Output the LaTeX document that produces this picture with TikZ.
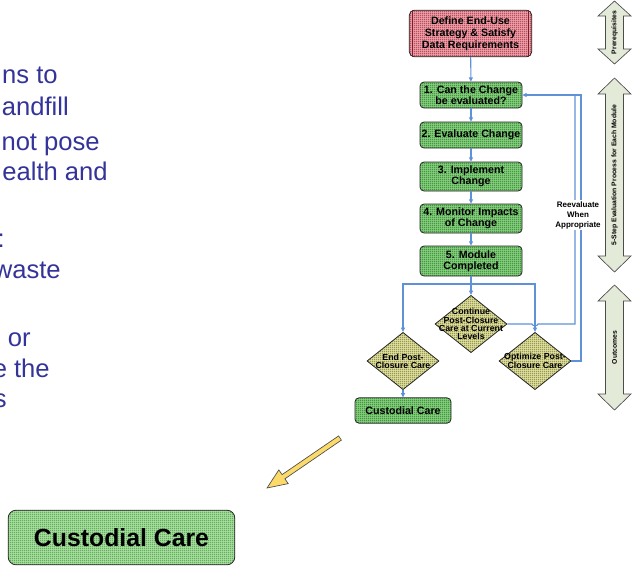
\documentclass[tikz,border=0pt]{standalone}
\usepackage{fontspec}
\setmainfont{Liberation Sans}
\usetikzlibrary{arrows.meta, shapes.geometric, patterns.meta}

\definecolor{flowblue}{RGB}{95,145,215}
\definecolor{slideblue}{RGB}{51,51,153}
\definecolor{rbase}{RGB}{235,160,168}
\definecolor{rline}{RGB}{160,35,55}
\definecolor{gbase}{RGB}{135,205,125}
\definecolor{gline}{RGB}{30,125,35}
\definecolor{cbase}{RGB}{170,222,160}
\definecolor{cline}{RGB}{60,150,60}
\definecolor{kbase}{RGB}{222,222,160}
\definecolor{kline}{RGB}{115,115,40}
\definecolor{sidefill}{RGB}{228,234,216}
\definecolor{yfill}{RGB}{252,218,105}

\tikzdeclarepattern{
  name=fgrid,
  type=uncolored,
  bounding box={(0,0) and (1.5pt,1.5pt)},
  tile size={(1.5pt,1.5pt)},
  code={
    \draw [line width=0.35pt] (0,0.75pt) -- (1.5pt,0.75pt) (0.75pt,0) -- (0.75pt,1.5pt);
  }
}

\begin{document}
\begin{tikzpicture}[x=0.75pt,y=0.75pt,yscale=-1,xscale=1,
  flow/.style={draw=flowblue, line width=0.8pt},
  tip/.style={-{Triangle[length=3.2pt,width=3pt]}},
  gbox/.style={draw=black!85, line width=0.6pt, rounded corners=3pt,
    preaction={fill=gbase}, pattern=fgrid, pattern color=gline,
    font=\bfseries\fontsize{8}{8}\selectfont, align=center, inner sep=1pt,
    minimum width=76.5pt},
  dia/.style={diamond, draw=black!85, line width=0.6pt, inner sep=0pt,
    preaction={fill=kbase}, pattern=fgrid, pattern color=kline,
    minimum width=54pt, minimum height=43pt},
  dtext/.style={font=\bfseries\fontsize{6.6}{6.1}\selectfont, align=center, inner sep=0pt},
  side/.style={draw=black!70, line width=0.5pt, fill=sidefill},
  sidetext/.style={font=\bfseries\fontsize{5.1}{5.1}\selectfont, rotate=90, inner sep=0pt},
  slide/.style={font=\fontsize{19.2}{19.2}\selectfont, text=slideblue, anchor=base east, inner sep=0pt}
]
\useasboundingbox (0,0) rectangle (635,568);
\clip (0,0) rectangle (635,568);

% Text Node
\node[slide] (t1) at (58,83) {ns to};
\node[slide] (t2) at (69,115) {andfill};
\node[slide] (t3) at (100,150) {not pose};
\node[slide] (t4) at (108,180) {ealth and};
\node[slide] (t5) at (5,247) {:};
\node[slide] (t6) at (61,278) {waste};
\node[slide] (t7) at (31,346) {or};
\node[slide] (t8) at (50,377) {e the};
\node[slide] (t9) at (7,407) {s};

% Text Node
\node[draw=black!85, line width=0.6pt, rounded corners=4pt,
  preaction={fill=rbase}, pattern=fgrid, pattern color=rline,
  font=\bfseries\fontsize{8}{9}\selectfont, align=center, inner sep=0pt,
  minimum width=92pt, minimum height=35pt] (define) at (470.5,33.5)
  {Define End-Use\\Strategy \& Satisfy\\Data Requirements};
\draw[draw=rline!80!black, line width=0.8pt] ([xshift=3pt]define.north west) -- ([xshift=3pt]define.south west);
\draw[draw=rline!80!black, line width=0.8pt] ([xshift=-3pt]define.north east) -- ([xshift=-3pt]define.south east);

\node[gbox, minimum height=19.5pt] (s1) at (471,95) {1. Can the Change\\be evaluated?};
\node[gbox, minimum height=19.5pt] (s2) at (471,135) {2. Evaluate Change};
\node[gbox, minimum height=21.75pt] (s3) at (471,176.5) {3. Implement\\Change};
\node[gbox, minimum height=21.75pt] (s4) at (471,218.5) {4. Monitor Impacts\\of Change};
\node[gbox, minimum height=22.5pt] (s5) at (471,261) {5. Module\\Completed};

% Diamonds
\node[dia, label={[dtext]center:{Continue\\Post-Closure\\Care at Current\\Levels}}] (dcont) at (471,324) {};
\node[dia, label={[dtext]center:{End Post-\\Closure Care}}] (dend) at (403,361) {};
\node[dia, label={[dtext]center:{Optimize Post-\\Closure Care}}] (dopt) at (535,361) {};

\node[gbox, minimum width=72pt, minimum height=19pt] (custs) at (403,410.5) {Custodial Care};
\node[gbox, preaction={fill=cbase}, pattern color=cline, rounded corners=6pt,
  font=\bfseries\fontsize{18.6}{18.6}\selectfont,
  minimum width=170pt, minimum height=41pt] (custbig) at (121.5,537.5) {Custodial Care};

%Straight Lines
\coordinate (br) at (471,284);
\coordinate (rin) at (575,0);
\coordinate (rout) at (581,0);
\draw[flow, tip] (define) -- (s1);
\draw[flow, tip] (s1) -- (s2);
\draw[flow, tip] (s2) -- (s3);
\draw[flow, tip] (s3) -- (s4);
\draw[flow, tip] (s4) -- (s5);
\draw[flow] (s5.south) -- (br);
\draw[flow, tip] (br) -- (dcont.north);
\draw[flow, tip] (br) -| (dend.north);
\draw[flow, tip] (br) -| (dopt.north);
\draw[flow, tip] (dend) -- (custs);
\draw[flow] (dcont.east) -- ([xshift=-2.2pt]dopt.north |- dcont.east) to[bend left=90] ([xshift=2.2pt]dopt.north |- dcont.east) -- (dcont.east -| rin) -- (s1.east -| rin);
\draw[flow, tip] (dopt.east) -- (dopt.east -| rout) -- (s1.east -| rout) -- (s1.east);

% Text Node
\node[fill=white, inner sep=1pt, font=\bfseries\fontsize{6}{7.5}\selectfont, align=center] (reeval) at (578,215) {Reevaluate\\When\\Appropriate};

% Side arrows
\draw[side] (614.5,1) -- (631,16) -- (623.5,16) -- (623.5,49) -- (631,49) -- (614.5,64) -- (598,49) -- (605.5,49) -- (605.5,16) -- (598,16) -- cycle;
\node[sidetext] (prereq) at (614.5,32.5) {Prerequisites};
\draw[side] (614.5,78) -- (631,94) -- (623.5,94) -- (623.5,256) -- (631,256) -- (614.5,272) -- (598,256) -- (605.5,256) -- (605.5,94) -- (598,94) -- cycle;
\node[sidetext] (evalstep) at (614.5,175) {5-Step Evaluation Process for Each Module};
\draw[side] (614.5,285) -- (631,301) -- (623.5,301) -- (623.5,394) -- (631,394) -- (614.5,410) -- (598,394) -- (605.5,394) -- (605.5,301) -- (598,301) -- cycle;
\node[sidetext] (outc) at (614.5,347.5) {Outcomes};

% Yellow arrow
\draw[draw=black!70, line width=0.5pt, fill=yfill] (338.6,435.9) -- (282.1,474.6) -- (278.8,469.9) -- (267,488) -- (288.2,483.6) -- (284.9,478.8) -- (341.4,440.1) -- cycle;

\end{tikzpicture}
\end{document}
